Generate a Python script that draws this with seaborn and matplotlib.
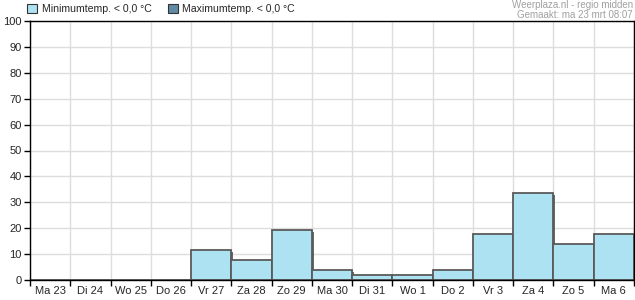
import matplotlib
matplotlib.use("Agg")
import matplotlib.pyplot as plt
import matplotlib.patches as mpatches
import matplotlib.patheffects as pe
import seaborn as sns
import pandas as pd
import numpy as np

days = ["Ma 23", "Di 24", "Wo 25", "Do 26", "Vr 27", "Za 28", "Zo 29", "Ma 30",
        "Di 31", "Wo 1", "Do 2", "Vr 3", "Za 4", "Zo 5", "Ma 6"]
min_temp_below_zero = [0, 0, 0, 0, 11.6, 7.7, 19.2, 3.7, 1.9, 1.9, 3.7, 17.6, 33.5, 13.8, 17.6]
legend_labels = ["Minimumtemp. < 0,0 °C", "Maximumtemp. < 0,0 °C"]
y_ticks = list(range(0, 101, 10))

sns.set_theme(style="white")
plt.rcParams['font.family'] = ['Liberation Sans', 'DejaVu Sans']
FS = 8

fig = plt.figure(figsize=(6.35, 3.0), dpi=100)
ax = fig.add_axes([30/635, 20/300, 604/635, 259/300])

df = pd.DataFrame({"day": days, "value": min_temp_below_zero})
sns.barplot(data=df, x="day", y="value", ax=ax, color="#ade2f2", width=1.0,
            edgecolor="#5a5a5a", linewidth=1.3, saturation=1)
for p in ax.patches:
    if p.get_height() > 0:
        p.set_path_effects([pe.SimplePatchShadow(offset=(1.2, -1.2), shadow_rgbFace="#444444", alpha=0.8),
                            pe.Normal()])

ax.set_xlim(-0.5, len(days) - 0.5)
ax.set_ylim(0, 100)
ax.set_yticks(y_ticks)
ax.set_xticks(np.arange(len(days)))
ax.set_xticks(np.arange(len(days) + 1) - 0.5, minor=True)
ax.set_xticklabels(days, fontsize=FS)
ax.set_yticklabels([str(t) for t in y_ticks], fontsize=FS)
ax.tick_params(axis="x", which="major", length=0, pad=4)
ax.tick_params(axis="x", which="minor", length=4, width=1, color="black", direction="out", bottom=True)
ax.tick_params(axis="y", length=4, width=1, color="black", direction="out", left=True, pad=2)
ax.set_axisbelow(True)
ax.grid(True, axis="y", color="#dddddd", linewidth=1)
ax.grid(True, axis="x", which="minor", color="#dddddd", linewidth=1)
ax.grid(False, axis="x", which="major")
ax.set_xlabel("")
ax.set_ylabel("")
for s in ax.spines.values():
    s.set_visible(True)
    s.set_color("black")
    s.set_linewidth(1)

# legend
h1 = mpatches.Patch(facecolor="#ade2f2", edgecolor="#333333", linewidth=0.8, label=legend_labels[0])
h2 = mpatches.Patch(facecolor="#5f8ba6", edgecolor="#333333", linewidth=0.8, label=legend_labels[1])
fig.legend(handles=[h1, h2], loc="upper left", bbox_to_anchor=(0.028, 1.018), ncol=2,
           frameon=False, fontsize=7.6, handlelength=0.95, handleheight=0.95,
           handletextpad=0.4, columnspacing=1.6)

fig.text(0.997, 1 - 8.5/300, "Weerplaza.nl - regio midden", ha="right", va="baseline", fontsize=7, color="#a0a0a0")
fig.text(0.997, 1 - 18/300, "Gemaakt: ma 23 mrt 08:07", ha="right", va="baseline", fontsize=7, color="#a0a0a0")

fig.savefig("out.png", dpi=100)
